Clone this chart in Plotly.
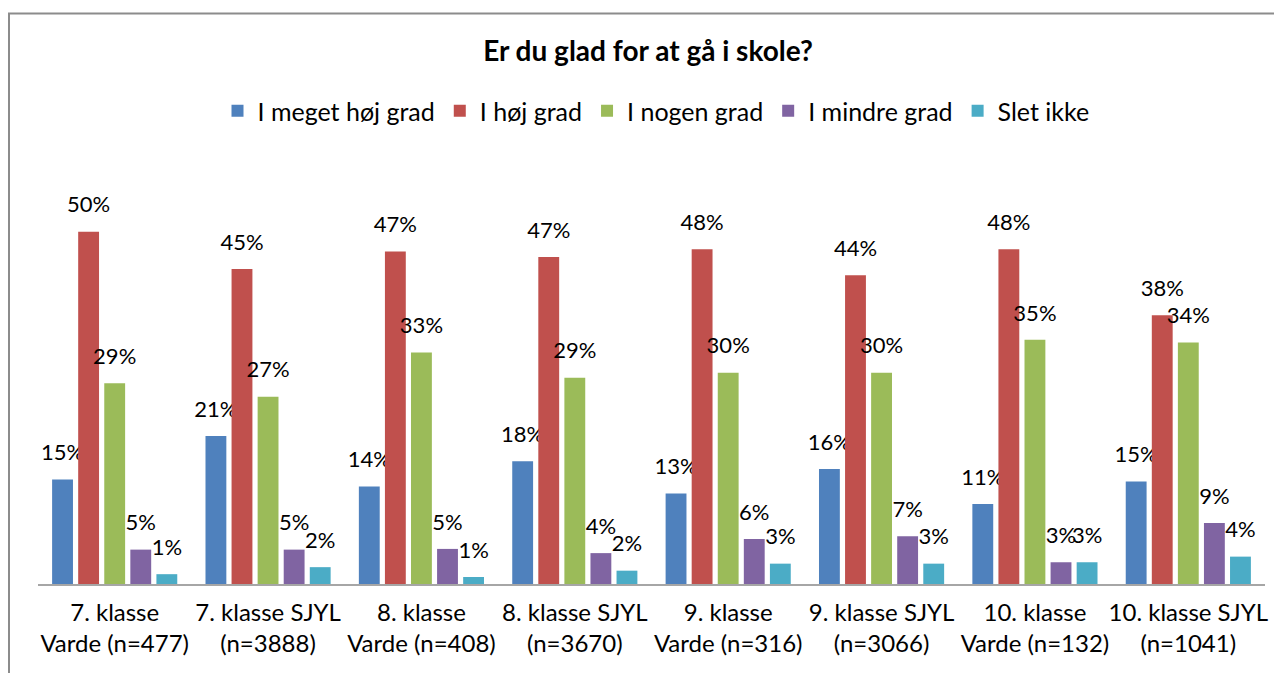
import plotly.graph_objects as go

categories = ["7. klasse<br>Varde (n=477)", "7. klasse SJYL<br>(n=3888)",
              "8. klasse<br>Varde (n=408)", "8. klasse SJYL<br>(n=3670)",
              "9. klasse<br>Varde (n=316)", "9. klasse SJYL<br>(n=3066)",
              "10. klasse<br>Varde (n=132)", "10. klasse SJYL<br>(n=1041)"]

meget_hoej = [14.9, 21.1, 13.9, 17.5, 12.9, 16.4, 11.4, 14.6]
hoej = [50.2, 44.9, 47.4, 46.6, 47.7, 44.0, 47.7, 38.3]
nogen = [28.6, 26.7, 33.0, 29.4, 30.1, 30.1, 34.8, 34.4]
mindre = [4.9, 4.9, 5.0, 4.4, 6.4, 6.8, 3.1, 8.7]
slet_ikke = [1.4, 2.4, 1.0, 1.9, 2.9, 2.9, 3.1, 3.9]

series = [
    ("I meget høj grad", meget_hoej, "#4F81BD"),
    ("I høj grad", hoej, "#C0504D"),
    ("I nogen grad", nogen, "#9BBB59"),
    ("I mindre grad", mindre, "#8064A2"),
    ("Slet ikke", slet_ikke, "#4BACC6"),
]

# the page body adds an 8px margin, so the figure is laid out 8px smaller
OFF = 8
W, H = 1282 - OFF, 673 - OFF
ML = 38 - OFF
MR = W - (1265 - OFF)
BASE = 584 - OFF
MB = H - BASE
YMAX = 58
PXPER = 7.01
plot_h = YMAX * PXPER
MT = BASE - plot_h

FONT = "Lato"

fig = go.Figure()
for name, vals, col in series:
    fig.add_trace(go.Bar(
        x=categories, y=vals, name=name,
        marker=dict(color=col, line=dict(width=0)),
        texttemplate="<span style='font-size:22px'>%{y:.0f}%</span><br> ",
        textposition="outside",
        textfont=dict(family=FONT, size=11, color="#000000"),
        constraintext="none",
        cliponaxis=False,
        hoverinfo="skip",
    ))

# outer chart border (Excel-style frame)
px_w = W - ML - MR
fig.add_shape(type="rect", xref="paper", yref="paper",
              x0=(1 - ML) / px_w, x1=(W + 20 - ML) / px_w,
              y0=-(H + 20 - BASE) / plot_h, y1=(BASE - (14 - OFF)) / plot_h,
              line=dict(color="#8C8C8C", width=2), fillcolor="rgba(0,0,0,0)",
              layer="below")

fig.update_layout(
    width=W, height=H,
    margin=dict(l=ML, r=MR, t=MT, b=MB, pad=0, autoexpand=False),
    paper_bgcolor="white", plot_bgcolor="white",
    barmode="group", bargap=0.15, bargroupgap=0.2,
    font=dict(family=FONT, color="#000000"),
    title=dict(text="<b>Er du glad for at gå i skole?</b>", x=(648 - OFF) / W, xanchor="center",
               y=1 - (51 - OFF) / H, yanchor="middle", yref="container",
               font=dict(family=FONT, size=28, color="#000000")),
    legend=dict(orientation="h", x=(656 - OFF) / W, xanchor="center", xref="container",
                y=1 - (111 - OFF) / H, yanchor="middle", yref="container",
                font=dict(family=FONT, size=25, color="#000000"),
                itemwidth=30, traceorder="normal"),
    showlegend=True,
)
fig.update_xaxes(showline=True, linecolor="#A6A6A6", linewidth=2, ticks="",
                 tickfont=dict(family=FONT, size=24, color="#000000"),
                 tickangle=0, automargin=False,
                 ticklabelstandoff=6,
                 showgrid=False, fixedrange=True)
fig.update_yaxes(range=[0, YMAX], visible=False, showgrid=False, zeroline=False,
                 fixedrange=True)

fig.write_html("out.html")
